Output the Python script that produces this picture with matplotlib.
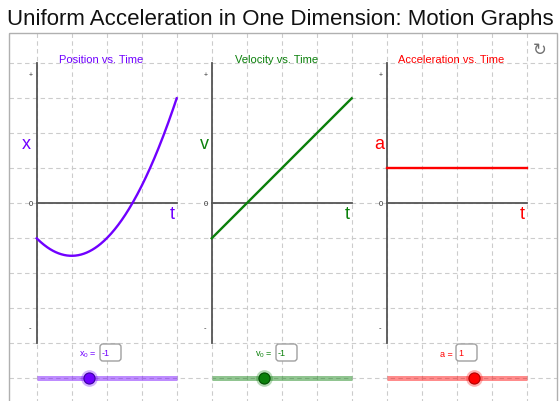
import numpy as np
import matplotlib
matplotlib.use("Agg")
import matplotlib.pyplot as plt
from matplotlib.patches import Rectangle, FancyBboxPatch

plt.rcParams['font.family'] = ['Liberation Sans', 'DejaVu Sans']
plt.rcParams['mathtext.fontset'] = 'custom'
plt.rcParams['mathtext.rm'] = 'Liberation Sans'
plt.rcParams['mathtext.it'] = 'Liberation Sans'

# slider values shown in the applet
x0 = -1.0
v0 = -1.0
acc = 1.0
slider_min, slider_max = -4, 4
t_max = 4

titles = ["Position vs. Time", "Velocity vs. Time", "Acceleration vs. Time"]
ylabels = ["x", "v", "a"]
slider_names = ["x$_0$ =", "v$_0$ =", "a ="]
slider_vals = [x0, v0, acc]
colors = ["#7000ff", "#0b800b", "#ff0000"]
dark = ["#3a00a0", "#004d00", "#b00000"]

# motion curves from the slider values
t = np.linspace(0, t_max, 200)
curves = [x0 + v0 * t + 0.5 * acc * t ** 2, v0 + acc * t, np.full_like(t, acc)]

W, H = 560, 402
fig = plt.figure(figsize=(W / 100, H / 100), dpi=100)

# background in pixel coordinates: frame + dashed grid
bg = fig.add_axes([0, 0, 1, 1])
bg.set_xlim(0, W)
bg.set_ylim(H, 0)
bg.axis("off")

cell = 35.0
gx0, gy0 = 36.7, 64.3
fl, ft, fr = 9, 34, 557
for k in range(15):
    x = gx0 + cell * k
    bg.plot([x, x], [ft, H], color="#cccccc", lw=0.8, ls=(0, (4, 3)), zorder=1)
for k in range(10):
    y = gy0 + cell * k
    bg.plot([fl, fr], [y, y], color="#cccccc", lw=0.8, ls=(0, (4, 3)), zorder=1)
bg.add_patch(Rectangle((fl, ft), fr - fl, H + 5 - ft, fill=False, ec="#b0b0b0", lw=1.0, zorder=2))

bg.text(7, 20, "Uniform Acceleration in One Dimension: Motion Graphs", fontsize=16,
        va="center", ha="left", color="#111111")
bg.text(540, 50, "\u21bb", fontsize=12, color="#707070", ha="center", va="center",
        family=["DejaVu Sans"])

box_left = [100, 276, 456]

for i in range(3):
    left = gx0 + i * 5 * cell
    right = left + t_max * cell
    top, bottom = gy0, gy0 + 8 * cell
    ax = fig.add_axes([left / W, 1 - bottom / H, (right - left) / W, (bottom - top) / H])
    ax.set_xlim(0, t_max)
    ax.set_ylim(-4, 4)
    ax.patch.set_alpha(0)
    for s in ["top", "right"]:
        ax.spines[s].set_visible(False)
    ax.spines["left"].set_position(("data", 0))
    ax.spines["bottom"].set_position(("data", 0))
    for s in ["left", "bottom"]:
        ax.spines[s].set_color("#555555")
        ax.spines[s].set_linewidth(1.3)
    ax.set_xticks([])
    ax.set_yticks([])

    ax.plot(t, curves[i], color=colors[i], lw=1.7, clip_on=False, zorder=3)

    ax.text(1.85, 4.12, titles[i], color=colors[i], fontsize=8, ha="center", va="center",
            clip_on=False)
    ax.text(-0.3 if i == 0 else -0.22, 1.7, ylabels[i], color=colors[i], fontsize=13,
            ha="center", va="center", clip_on=False)
    ax.text(3.86, -0.28, "t", color=colors[i], fontsize=13, ha="center", va="center",
            clip_on=False)
    ax.text(-0.18, 3.68, "+", fontsize=5, ha="center", va="center", color="#333333", clip_on=False)
    ax.text(-0.17, 0.0, "0", fontsize=5.5, ha="center", va="center", color="#333333", clip_on=False)
    ax.text(-0.18, -3.56, "-", fontsize=5.5, ha="center", va="center", color="#333333", clip_on=False)

    # slider
    sy = 378.5
    sax = fig.add_axes([left / W, 1 - (sy + 8) / H, (right - left) / W, 16 / H])
    sax.set_xlim(slider_min, slider_max)
    sax.set_ylim(-1, 1)
    sax.axis("off")
    sax.plot([slider_min, slider_max], [0, 0], color=colors[i], alpha=0.45, lw=3.6,
             solid_capstyle="butt", clip_on=False)
    sax.plot([slider_vals[i]], [0], "o", ms=12, color=colors[i], alpha=0.3, mec="none", clip_on=False)
    sax.plot([slider_vals[i]], [0], "o", ms=8, mfc=colors[i], mec=dark[i], mew=0.8, clip_on=False)

    # input box
    bl = box_left[i]
    bg.add_patch(FancyBboxPatch((bl, 345), 21, 17, boxstyle="round,pad=0,rounding_size=3",
                                fc="white", ec="#a0a0a0", lw=1.0, zorder=4))
    bg.text(bl + 2, 353.5, "%g" % slider_vals[i], color=colors[i], fontsize=6.5, ha="left",
            va="center", zorder=5)
    bg.text(bl - 3, 355, slider_names[i], color=colors[i], fontsize=6.5, ha="right",
            va="center", zorder=5)

fig.savefig("out.png", dpi=100)
